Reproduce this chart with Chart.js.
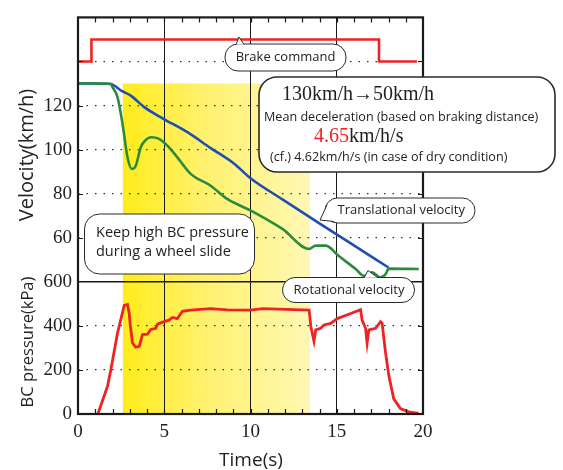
<!DOCTYPE html>
<html>
<head>
<meta charset="utf-8">
<script src="https://cdn.jsdelivr.net/npm/chart.js@4.4.0/dist/chart.umd.min.js"></script>
<style>
  body { margin: 0; background: #fff; }
  #wrap { width: 563px; height: 470px; }
</style>
</head>
<body>
<div id="wrap"><canvas id="brakeChart" width="563" height="470"></canvas></div>
<script>
// brake command (drawn in the upper panel)
const brakeTime = [0, 0.78, 0.78, 17.45, 17.45, 19.65];
const brakeLevel = [140, 140, 150, 150, 140, 140];

// translational velocity (km/h)
const transTime = [0, 1.0, 1.9, 2.5, 3.06, 3.84, 4.95, 6.34, 7.69, 9.04, 10.0, 11.85, 13.97, 15.7, 18.0];
const transVel = [130, 130, 129.8, 126.8, 124.5, 119.3, 114, 107.9, 100.7, 93.7, 87.0, 77.4, 66.6, 58.0, 46.5];

// rotational velocity (km/h)
const rotTime = [0, 1.0, 1.9, 2.0, 2.29, 2.58, 2.87, 3.12, 3.35, 3.64, 3.95, 4.22, 4.7, 5.18, 5.76, 6.53, 7.69, 8.65, 10.1, 11.85, 13.4, 13.78, 14.36, 15.1, 16.1, 16.57, 17.05, 17.54, 17.83, 18.02, 19.75];
const rotVel = [130, 130, 129.8, 128.4, 123.8, 111.7, 96.5, 91.2, 92.7, 101.1, 104.5, 105.6, 104.9, 101.8, 96.5, 89.0, 83.6, 77.6, 72, 64, 54.9, 56.4, 56.4, 51.8, 45.8, 42.7, 44.3, 42, 43.5, 46, 45.8];

// BC pressure (kPa)
const bcTime = [1.15, 1.5, 1.72, 1.91, 2.29, 2.68, 2.87, 2.97, 3.03, 3.16, 3.35, 3.55, 3.74, 4.03, 4.22, 4.51, 4.61, 4.99, 5.28, 5.47, 5.76, 6.05, 6.53, 7.69, 8.65, 10.0, 10.7, 13.4, 13.5, 13.68, 13.78, 14.07, 14.26, 14.65, 15.03, 15.7, 16.38, 16.47, 16.67, 16.76, 16.86, 17.25, 17.54, 17.63, 17.83, 18.02, 18.3, 18.69, 19.17, 19.75];
const bcPress = [0, 78, 129, 203, 367, 493, 497, 456, 404, 322, 303, 307, 360, 362, 384, 389, 408, 419, 426, 438, 433, 466, 471, 478, 473, 471, 478, 471, 396, 330, 382, 389, 404, 411, 433, 453, 473, 426, 389, 322, 382, 389, 419, 411, 278, 174, 70, 25, 10, 3];

// axis ticks
const velLabels = [60, 80, 100, 120];
const velGrid = [60, 80, 100, 120, 140];
const pressLabels = [0, 200, 400, 600];
const pressGrid = [200, 400];
const timeLabels = [0, 5, 10, 15, 20];
const timeGrid = [5, 10, 15];

// slide section (shaded band)
const slideStart = 2.6;
const slideEnd = 13.45;
const slideTop = 130;

const pts = (xs, ys) => xs.map((x, i) => ({ x: x, y: ys[i] }));

const SANS = '"Open Sans", "Noto Sans", sans-serif';
const SERIF = '"Liberation Serif", "Times New Roman", serif';

Chart.defaults.font.family = SERIF;

function roundBox(ctx, x, y, w, h, r) {
  ctx.beginPath();
  ctx.moveTo(x + r, y);
  ctx.lineTo(x + w - r, y);
  ctx.arcTo(x + w, y, x + w, y + r, r);
  ctx.lineTo(x + w, y + h - r);
  ctx.arcTo(x + w, y + h, x + w - r, y + h, r);
  ctx.lineTo(x + r, y + h);
  ctx.arcTo(x, y + h, x, y + h - r, r);
  ctx.lineTo(x, y + r);
  ctx.arcTo(x, y, x + r, y, r);
  ctx.closePath();
}

function callout(ctx, x, y, w, h, r, lw, tail) {
  ctx.save();
  ctx.fillStyle = '#fff';
  ctx.strokeStyle = '#2a2a2a';
  ctx.lineWidth = lw;
  roundBox(ctx, x, y, w, h, r);
  ctx.fill();
  ctx.stroke();
  if (tail) {
    // tail: [base1, tip, base2]
    ctx.beginPath();
    ctx.moveTo(tail[0][0], tail[0][1]);
    ctx.lineTo(tail[1][0], tail[1][1]);
    ctx.lineTo(tail[2][0], tail[2][1]);
    ctx.closePath();
    ctx.fill();
    ctx.beginPath();
    ctx.moveTo(tail[0][0], tail[0][1]);
    ctx.lineTo(tail[1][0], tail[1][1]);
    ctx.lineTo(tail[2][0], tail[2][1]);
    ctx.stroke();
  }
  ctx.restore();
}

const bandPlugin = {
  id: 'band',
  beforeDraw(chart) {
    const { ctx, scales } = chart;
    const x0 = scales.x.getPixelForValue(slideStart);
    const x1 = scales.x.getPixelForValue(slideEnd);
    const y0 = scales.v.getPixelForValue(slideTop);
    const y1 = scales.p.getPixelForValue(0);
    const g = ctx.createLinearGradient(x0, 0, x1, 0);
    g.addColorStop(0, '#ffec1c');
    g.addColorStop(0.45, '#fff170');
    g.addColorStop(1, '#fff8b4');
    ctx.save();
    ctx.fillStyle = g;
    ctx.fillRect(x0, y0, x1 - x0, y1 - y0);
    ctx.restore();
  }
};

const framePlugin = {
  id: 'frame',
  afterDatasetsDraw(chart) {
    const { ctx, chartArea: a, scales } = chart;
    ctx.save();
    ctx.strokeStyle = '#1a1a1a';
    // minor time ticks, inward
    ctx.lineWidth = 1.2;
    for (let t = 1; t < 20; t++) {
      const x = Math.round(scales.x.getPixelForValue(t)) + 0.5;
      ctx.beginPath();
      ctx.moveTo(x, a.top); ctx.lineTo(x, a.top + 5);
      ctx.moveTo(x, a.bottom); ctx.lineTo(x, a.bottom - 5);
      ctx.stroke();
    }
    // y ticks, inward on both sides
    const yTick = (y) => {
      ctx.beginPath();
      ctx.moveTo(a.left, y); ctx.lineTo(a.left + 5, y);
      ctx.moveTo(a.right, y); ctx.lineTo(a.right - 5, y);
      ctx.stroke();
    };
    velGrid.forEach(v => yTick(Math.round(scales.v.getPixelForValue(v)) + 0.5));
    pressGrid.forEach(v => yTick(Math.round(scales.p.getPixelForValue(v)) + 0.5));
    // panel divider
    ctx.lineWidth = 1.5;
    const yd = scales.p.getPixelForValue(600);
    ctx.beginPath();
    ctx.moveTo(a.left, yd); ctx.lineTo(a.right, yd);
    ctx.stroke();
    // outer frame
    ctx.lineWidth = 2.2;
    ctx.strokeRect(a.left, a.top, a.right - a.left, a.bottom - a.top);
    ctx.restore();
  },
  afterDraw(chart) {
    const { ctx } = chart;
    ctx.save();
    ctx.fillStyle = '#222';

    // axis titles
    ctx.textAlign = 'center';
    ctx.textBaseline = 'alphabetic';
    ctx.save();
    ctx.translate(33, 155);
    ctx.rotate(-Math.PI / 2);
    ctx.font = '20px ' + SANS;
    ctx.fillText('Velocity(km/h)', 0, 0);
    ctx.restore();
    ctx.save();
    ctx.translate(33, 342);
    ctx.rotate(-Math.PI / 2);
    ctx.font = '16.5px ' + SANS;
    ctx.fillText('BC pressure(kPa)', 0, 0);
    ctx.restore();
    ctx.font = '19px ' + SANS;
    ctx.fillText('Time(s)', 251, 466);

    // Brake command
    callout(ctx, 225, 44, 121, 27, 13, 1, [[236, 44.5], [239, 37], [244, 44.5]]);
    ctx.fillStyle = '#222';
    ctx.font = '13px ' + SANS;
    ctx.textBaseline = 'middle';
    ctx.fillText('Brake command', 285.5, 57.5);

    // big note
    callout(ctx, 259, 77, 296, 95, 18, 1.6, null);
    ctx.textBaseline = 'alphabetic';
    ctx.fillStyle = '#222';
    ctx.textAlign = 'center';
    ctx.font = '20px ' + SERIF;
    ctx.fillText('130km/h\u219250km/h', 358, 100);
    ctx.textAlign = 'left';
    ctx.font = '12.6px ' + SANS;
    ctx.fillText('Mean deceleration (based on braking distance)', 264, 121);
    ctx.font = '20px ' + SERIF;
    ctx.fillStyle = '#ee2024';
    ctx.fillText('4.65', 314, 142);
    const w465 = ctx.measureText('4.65').width;
    ctx.fillStyle = '#222';
    ctx.fillText('km/h/s', 314 + w465, 142);
    ctx.font = '12.6px ' + SANS;
    ctx.fillText('(cf.) 4.62km/h/s (in case of dry condition)', 270, 161);

    // keep high BC pressure
    callout(ctx, 84.5, 214, 170, 60, 15, 1, null);
    ctx.fillStyle = '#222';
    ctx.font = '14.5px ' + SANS;
    ctx.fillText('Keep high BC pressure', 96, 237);
    ctx.fillText('during a wheel slide', 96, 256);

    // translational velocity
    callout(ctx, 325, 198, 150, 25, 12.5, 1, [[327, 205], [320, 220], [334, 221.5]]);
    ctx.fillStyle = '#222';
    ctx.font = '13px ' + SANS;
    ctx.textBaseline = 'middle';
    ctx.fillText('Translational velocity', 337.5, 210.5);

    // rotational velocity
    callout(ctx, 282.5, 277.5, 132, 25, 12.5, 1, [[364, 277.8], [368, 270.5], [378, 277.8]]);
    ctx.fillStyle = '#222';
    ctx.textAlign = 'center';
    ctx.fillText('Rotational velocity', 349, 290.5);
    ctx.restore();
  }
};

new Chart(document.getElementById('brakeChart'), {
  type: 'line',
  data: {
    datasets: [
      { label: 'Brake command', data: pts(brakeTime, brakeLevel), yAxisID: 'v', borderColor: '#ee2326', borderWidth: 2.6, tension: 0 },
      { label: 'BC pressure', data: pts(bcTime, bcPress), yAxisID: 'p', borderColor: '#ee2326', borderWidth: 2.8, tension: 0 },
      { label: 'Rotational velocity', data: pts(rotTime, rotVel), yAxisID: 'v', borderColor: '#2b8a3b', borderWidth: 2.6, cubicInterpolationMode: 'monotone' },
      { label: 'Translational velocity', data: pts(transTime, transVel), yAxisID: 'v', borderColor: '#1f4fb3', borderWidth: 2.6, cubicInterpolationMode: 'monotone' }
    ]
  },
  options: {
    responsive: false,
    animation: false,
    devicePixelRatio: 1,
    layout: { padding: { left: 0, right: 140, top: 12, bottom: 0 } },
    elements: { point: { radius: 0 } },
    plugins: { legend: { display: false }, tooltip: { enabled: false } },
    scales: {
      x: {
        type: 'linear',
        min: 0,
        max: 20,
        afterFit: (s) => { s.height = 56; },
        border: { display: false },
        grid: {
          drawTicks: false,
          lineWidth: 1,
          color: (c) => (c.tick && timeGrid.includes(c.tick.value)) ? '#1a1a1a' : 'transparent'
        },
        ticks: {
          stepSize: 1,
          autoSkip: false,
          maxRotation: 0,
          padding: 7,
          color: '#222',
          font: { family: SERIF, size: 19 },
          callback: (v) => timeLabels.includes(v) ? String(v) : ''
        }
      },
      p: {
        type: 'linear',
        position: 'left',
        stack: 'panels',
        stackWeight: 1,
        min: 0,
        max: 600,
        afterFit: (s) => { s.width = 78; },
        border: { display: false, dash: [1.5, 7] },
        grid: {
          drawTicks: false,
          lineWidth: 1.3,
          color: (c) => (c.tick && pressGrid.includes(c.tick.value)) ? '#333' : 'transparent'
        },
        ticks: {
          stepSize: 200,
          autoSkip: false,
          padding: 6,
          color: '#222',
          font: { family: SERIF, size: 19 },
          callback: (v) => pressLabels.includes(v) ? String(v) : ''
        }
      },
      v: {
        type: 'linear',
        position: 'left',
        stack: 'panels',
        stackWeight: 2,
        min: 40,
        max: 160,
        afterFit: (s) => { s.width = 78; },
        border: { display: false, dash: [1.5, 7] },
        grid: {
          drawTicks: false,
          lineWidth: 1.3,
          color: (c) => (c.tick && velGrid.includes(c.tick.value)) ? '#333' : 'transparent'
        },
        ticks: {
          stepSize: 20,
          autoSkip: false,
          padding: 6,
          color: '#222',
          font: { family: SERIF, size: 19 },
          callback: (v) => velLabels.includes(v) ? String(v) : ''
        }
      }
    }
  },
  plugins: [bandPlugin, framePlugin]
});
</script>
</body>
</html>
